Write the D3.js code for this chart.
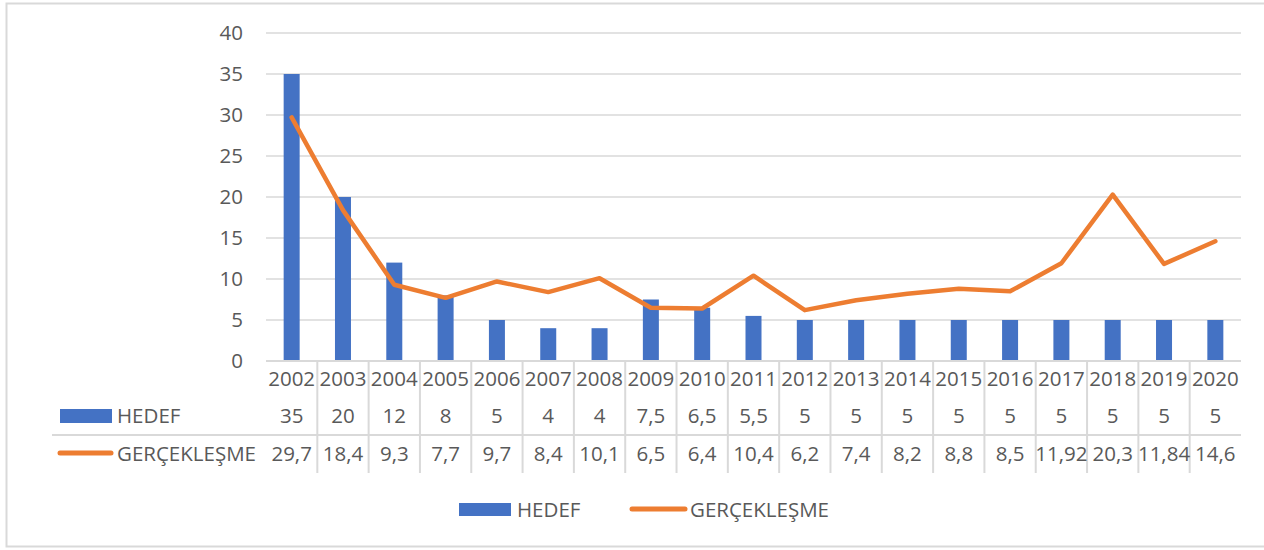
<!DOCTYPE html>
<html>
<head>
<meta charset="utf-8">
<script src="https://d3js.org/d3.v7.min.js"></script>
<style>
body { margin: 0; background: #fff; }
svg { display: block; }
text { font-family: 'Open Sans', sans-serif; fill: #595959; }
</style>
</head>
<body>
<svg></svg>
<script>
// chart data
var years = ["2002","2003","2004","2005","2006","2007","2008","2009","2010","2011","2012","2013","2014","2015","2016","2017","2018","2019","2020"];
var hedef = [35, 20, 12, 8, 5, 4, 4, 7.5, 6.5, 5.5, 5, 5, 5, 5, 5, 5, 5, 5, 5];
var gercek = [29.7, 18.4, 9.3, 7.7, 9.7, 8.4, 10.1, 6.5, 6.4, 10.4, 6.2, 7.4, 8.2, 8.8, 8.5, 11.92, 20.3, 11.84, 14.6];
var yTicks = [0, 5, 10, 15, 20, 25, 30, 35, 40];
var seriesNames = ["HEDEF", "GERÇEKLEŞME"];

var width = 1264, height = 550;
var blue = "#4472C4", orange = "#ED7D31", grid = "#d9d9d9";
var fontSize = 20.5;

var svg = d3.select("svg").attr("width", width).attr("height", height);

// outer chart border
svg.append("rect")
  .attr("x", 6.5).attr("y", 3.5)
  .attr("width", width + 10).attr("height", 543)
  .attr("fill", "none").attr("stroke", grid).attr("stroke-width", 2);

var plotLeft = 266, plotRight = 1241, plotTop = 33, plotBottom = 361;

var x = d3.scaleBand().domain(years).range([plotLeft, plotRight]);
var y = d3.scaleLinear().domain([0, 40]).range([plotBottom, plotTop]);

// gridlines
svg.append("g").selectAll("line").data(yTicks).join("line")
  .attr("x1", plotLeft).attr("x2", plotRight)
  .attr("y1", function (d) { return y(d); })
  .attr("y2", function (d) { return y(d); })
  .attr("stroke", grid).attr("stroke-width", 1.5);

// y labels
svg.append("g").selectAll("text").data(yTicks).join("text")
  .attr("x", 243)
  .attr("y", function (d) { return y(d); })
  .attr("dy", "0.35em")
  .attr("text-anchor", "end")
  .style("font-size", fontSize + "px")
  .text(function (d) { return d; });

// bars
var barW = 16;
svg.append("g").selectAll("rect").data(hedef).join("rect")
  .attr("x", function (d, i) { return x(years[i]) + x.bandwidth() / 2 - barW / 2; })
  .attr("y", function (d) { return y(d); })
  .attr("width", barW)
  .attr("height", function (d) { return y(0) - y(d); })
  .attr("fill", blue);

// line
var line = d3.line()
  .x(function (d, i) { return x(years[i]) + x.bandwidth() / 2; })
  .y(function (d) { return y(d); });

svg.append("path").datum(gercek)
  .attr("d", line)
  .attr("fill", "none")
  .attr("stroke", orange)
  .attr("stroke-width", 4.5)
  .attr("stroke-linejoin", "round")
  .attr("stroke-linecap", "round");

// data table
var tableTop = 361, tableBottom = 473, rowSplit = 435;
var t = svg.append("g");

t.append("line")
  .attr("x1", plotLeft).attr("x2", plotRight)
  .attr("y1", tableTop).attr("y2", tableTop)
  .attr("stroke", grid).attr("stroke-width", 2);
t.append("line")
  .attr("x1", 52).attr("x2", plotRight)
  .attr("y1", rowSplit).attr("y2", rowSplit)
  .attr("stroke", grid).attr("stroke-width", 2);

t.selectAll("line.sep").data(years.slice(1)).join("line")
  .attr("class", "sep")
  .attr("x1", function (d) { return x(d); })
  .attr("x2", function (d) { return x(d); })
  .attr("y1", tableTop).attr("y2", tableBottom)
  .attr("stroke", grid).attr("stroke-width", 2);

function fmt(v) { return String(v).replace(".", ","); }

var rows = [
  { vals: years, base: 386 },
  { vals: hedef.map(fmt), base: 423 },
  { vals: gercek.map(fmt), base: 461 }
];

rows.forEach(function (r) {
  t.append("g").selectAll("text").data(r.vals).join("text")
    .attr("x", function (d, i) { return x(years[i]) + x.bandwidth() / 2; })
    .attr("y", r.base)
    .attr("text-anchor", "middle")
    .style("font-size", fontSize + "px")
    .text(function (d) { return d; });
});

// table legend keys
t.append("rect").attr("x", 60).attr("y", 409).attr("width", 52).attr("height", 14).attr("fill", blue);
t.append("text").attr("x", 117).attr("y", 423).style("font-size", fontSize + "px").text(seriesNames[0]);
t.append("line").attr("x1", 60).attr("x2", 111).attr("y1", 453).attr("y2", 453)
  .attr("stroke", orange).attr("stroke-width", 5).attr("stroke-linecap", "round");
t.append("text").attr("x", 117).attr("y", 461).style("font-size", fontSize + "px").text(seriesNames[1]);

// bottom legend
var lg = svg.append("g");
lg.append("rect").attr("x", 459).attr("y", 503).attr("width", 52).attr("height", 13).attr("fill", blue);
lg.append("text").attr("x", 517).attr("y", 517).style("font-size", fontSize + "px").text(seriesNames[0]);
lg.append("line").attr("x1", 632).attr("x2", 685).attr("y1", 509).attr("y2", 509)
  .attr("stroke", orange).attr("stroke-width", 5).attr("stroke-linecap", "round");
lg.append("text").attr("x", 690).attr("y", 517).style("font-size", fontSize + "px").text(seriesNames[1]);
</script>
</body>
</html>
